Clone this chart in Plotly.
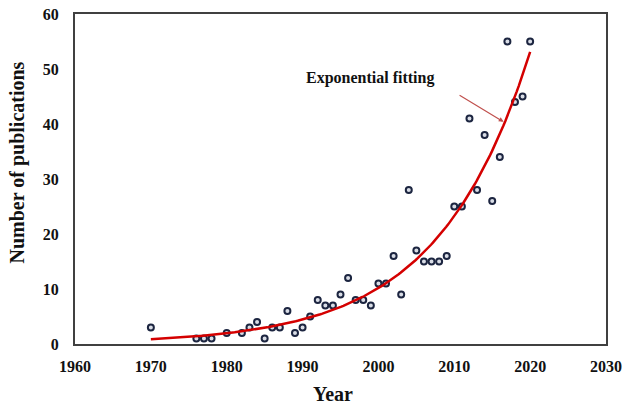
import numpy as np
import plotly.graph_objects as go

years = [1970, 1976, 1977, 1978, 1980, 1982, 1983, 1984, 1985, 1986, 1987, 1988, 1989,
         1990, 1991, 1992, 1993, 1994, 1995, 1996, 1997, 1998, 1999, 2000, 2001, 2002,
         2003, 2004, 2005, 2006, 2007, 2008, 2009, 2010, 2011, 2012, 2013, 2014, 2015,
         2016, 2017, 2018, 2019, 2020]
publications = [3, 1, 1, 1, 2, 2, 3, 4, 1, 3, 3, 6, 2,
                3, 5, 8, 7, 7, 9, 12, 8, 8, 7, 11, 11, 16,
                9, 28, 17, 15, 15, 15, 16, 25, 25, 41, 28, 38, 26,
                34, 55, 44, 45, 55]
x_ticks = [1960, 1970, 1980, 1990, 2000, 2010, 2020, 2030]
y_ticks = [0, 10, 20, 30, 40, 50, 60]
fit_label = "Exponential fitting"
x_title = "Year"
y_title = "Number of publications"

# Exponential trendline (least squares on ln(y)), as a spreadsheet trendline does
yrs = np.array(years, dtype=float)
pubs = np.array(publications, dtype=float)
b, ln_a = np.polyfit(yrs - yrs.min(), np.log(pubs), 1)
fx = np.linspace(yrs.min(), yrs.max(), 200)
fy = np.exp(ln_a) * np.exp(b * (fx - yrs.min()))

FONT = "Liberation Serif, Times New Roman, serif"
INK = "#111111"
W, H = 623, 407
ML, MR, MT, MB = 75, 17, 14, 63
PW, PH = W - ML - MR, H - MT - MB


def px_to_paper(px, py):
    return (px - ML) / PW, (H - MB - py) / PH


fig = go.Figure()
fig.add_trace(go.Scatter(
    x=years, y=publications, mode="markers",
    marker=dict(symbol="circle", size=6, color="#d9dde6",
                line=dict(color="#1c2540", width=2)),
    showlegend=False, hoverinfo="x+y"))
fig.add_trace(go.Scatter(
    x=fx, y=fy, mode="lines",
    line=dict(color="#d40000", width=2.5),
    showlegend=False, hoverinfo="skip"))

# annotation text
fig.add_annotation(
    x=1998.9, y=48.4, xref="x", yref="y", text=f"<b>{fit_label}</b>",
    showarrow=False, font=dict(family=FONT, size=16, color=INK))
# arrow pointing at the curve
fig.add_annotation(
    x=2016.5, y=40.4, xref="x", yref="y",
    ax=2010.5, ay=45.4, axref="x", ayref="y",
    text="", showarrow=True, arrowhead=2, arrowsize=0.8, arrowwidth=1.2,
    arrowcolor="#c0504d")

# axis titles placed as annotations for precise position
xt = px_to_paper(332.5, 394)
fig.add_annotation(
    x=xt[0], y=xt[1], xref="paper", yref="paper",
    xanchor="center", yanchor="middle", showarrow=False,
    text=f"<b>{x_title}</b>", font=dict(family=FONT, size=20, color=INK))
yt = px_to_paper(17, 162.5)
fig.add_annotation(
    x=yt[0], y=yt[1], xref="paper", yref="paper",
    xanchor="center", yanchor="middle", showarrow=False, textangle=-90,
    text=f"<b>{y_title}</b>", font=dict(family=FONT, size=20, color=INK))

axis_common = dict(
    showgrid=False, zeroline=False, showline=True, mirror=True,
    linecolor="#404040", linewidth=2, ticks="", automargin=False,
    tickfont=dict(family=FONT, size=16, color=INK, weight="bold"))

fig.update_xaxes(range=[1960, 2030], tickvals=x_ticks, ticklabelstandoff=7, **axis_common)
fig.update_yaxes(range=[0, 60], tickvals=y_ticks, ticklabelstandoff=11, **axis_common)

fig.update_layout(
    width=W, height=H,
    margin=dict(l=ML, r=MR, t=MT, b=MB, autoexpand=False),
    plot_bgcolor="white", paper_bgcolor="white",
    font=dict(family=FONT, color=INK),
)

fig.write_html("out.html")
